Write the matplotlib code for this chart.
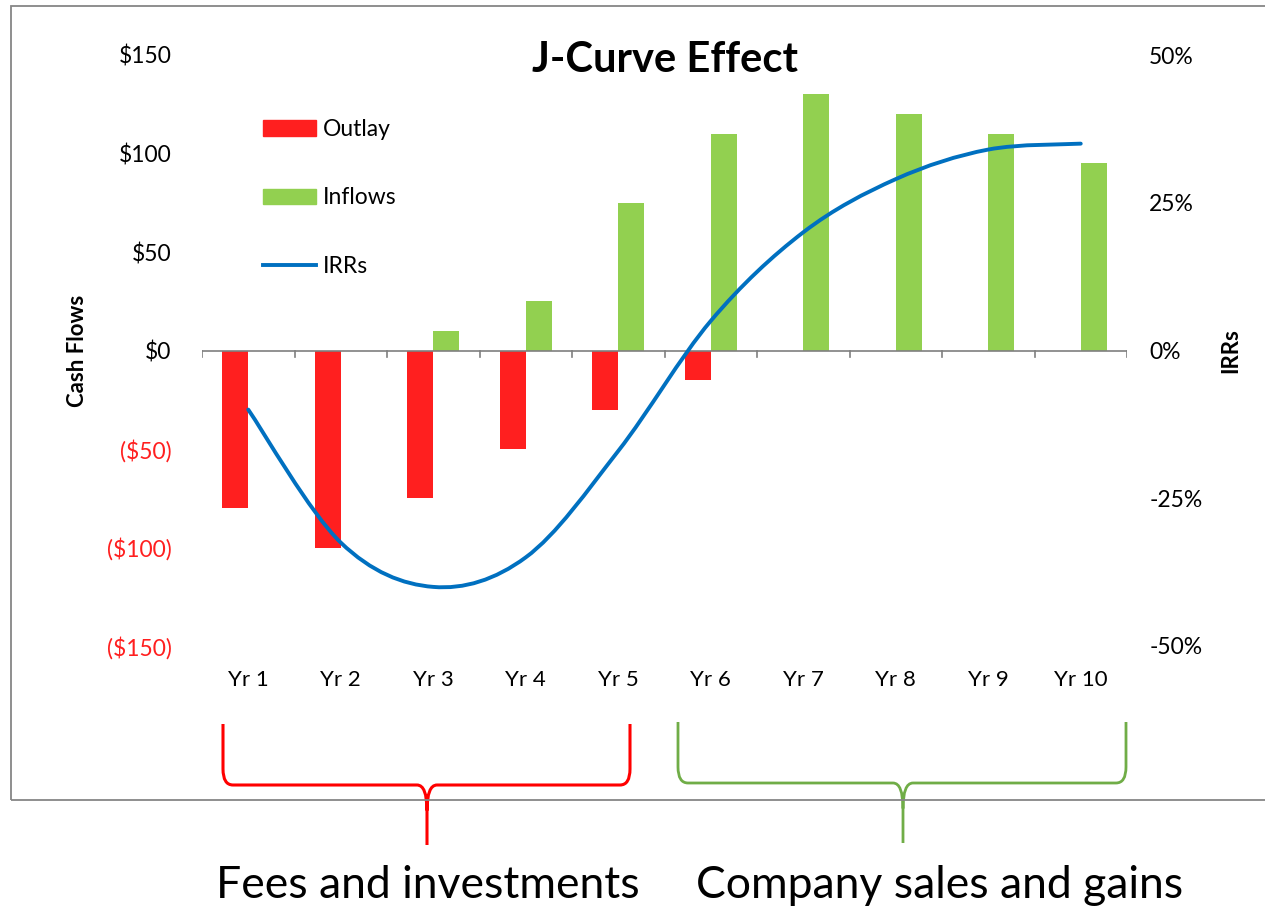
import matplotlib
matplotlib.use("Agg")
import matplotlib.pyplot as plt
from matplotlib.path import Path
from matplotlib.patches import PathPatch, Patch, Rectangle
from matplotlib.lines import Line2D
import matplotlib.transforms as mtransforms
import numpy as np

plt.rcParams['font.family'] = ['Lato', 'DejaVu Sans']

# data
years = ["Yr 1", "Yr 2", "Yr 3", "Yr 4", "Yr 5", "Yr 6", "Yr 7", "Yr 8", "Yr 9", "Yr 10"]
outlay = [-80, -100, -75, -50, -30, -15, 0, 0, 0, 0]
inflows = [0, 0, 10, 25, 75, 110, 130, 120, 110, 95]
irrs = [-0.10, -0.325, -0.40, -0.35, -0.17, 0.05, 0.20, 0.29, 0.34, 0.35]

cash_ticks = [-150, -100, -50, 0, 50, 100, 150]
cash_labels = ["($150)", "($100)", "($50)", "$0", "$50", "$100", "$150"]
irr_ticks = [-0.5, -0.25, 0, 0.25, 0.5]
irr_labels = ["-50%", "-25%", "0%", "25%", "50%"]

RED = "#FF1F1F"
GREEN = "#92D050"
BLUE = "#0070C0"

W, H = 1265, 911
fig = plt.figure(figsize=(W / 100, H / 100), dpi=100)
ax = fig.add_axes([202 / W, (H - 646) / H, 925 / W, 591 / H])
ax2 = ax.twinx()

x = np.arange(len(years))
bw = 0.28
ax.bar(x, outlay, width=-bw, align='edge', color=RED, zorder=2)
ax.bar(x, inflows, width=bw, align='edge', color=GREEN, zorder=2)

ax.set_xlim(-0.5, len(years) - 0.5)
ax.set_ylim(-150, 150)
ax2.set_ylim(-0.5, 0.5)

# zero line with category boundary ticks
ax.axhline(0, color="#7f7f7f", lw=1.2, zorder=3)
for b in np.arange(-0.5, len(years), 1.0):
    ax.plot([b, b], [0, -3.5], color="#7f7f7f", lw=1.2, zorder=3)

for s in ax.spines.values():
    s.set_visible(False)
for s in ax2.spines.values():
    s.set_visible(False)

ax.set_xticks([])
ax.set_yticks(cash_ticks)
ax.set_yticklabels(cash_labels, fontsize=16.5)
ax.tick_params(axis='y', length=0, pad=22)
for lbl, v in zip(ax.get_yticklabels(), cash_ticks):
    lbl.set_color(RED if v < 0 else "black")

ax2.set_yticks(irr_ticks)
ax2.set_yticklabels(irr_labels, fontsize=16.5)
ax2.tick_params(axis='y', length=0, pad=16)

# category labels below the plot area
trans = mtransforms.blended_transform_factory(ax.transData, ax.transAxes)
for xi, name in zip(x, years):
    ax.text(xi, -0.0575, name, transform=trans, ha='center', va='center', fontsize=16)

ax.set_ylabel("Cash Flows", fontsize=16, fontweight='bold')
ax.yaxis.set_label_coords((88 - 202) / 925, 0.5)
ax2.set_ylabel("IRRs", fontsize=16, fontweight='bold')
ax2.yaxis.set_label_coords((1220 - 202) / 925, 0.5)

ax.text(0.5, 0.9915, "J-Curve Effect", transform=ax.transAxes, ha='center', va='center',
        fontsize=30, fontweight='bold')

# smoothed IRR line (Catmull-Rom style bezier through the points)
verts = [(x[0], irrs[0])]
codes = [Path.MOVETO]
n = len(x)
for i in range(n - 1):
    p0 = i - 1 if i > 0 else i
    p3 = i + 2 if i + 2 < n else i + 1
    c1 = (x[i] + (x[i + 1] - x[p0]) / 6, irrs[i] + (irrs[i + 1] - irrs[p0]) / 6)
    c2 = (x[i + 1] - (x[p3] - x[i]) / 6, irrs[i + 1] - (irrs[p3] - irrs[i]) / 6)
    verts += [c1, c2, (x[i + 1], irrs[i + 1])]
    codes += [Path.CURVE4] * 3
ax2.add_patch(PathPatch(Path(verts, codes), fill=False, edgecolor=BLUE, lw=2.8,
                        capstyle='round', zorder=4))

handles = [Patch(color=RED), Patch(color=GREEN), Line2D([], [], color=BLUE, lw=2.8)]
ax2.legend(handles, ["Outlay", "Inflows", "IRRs"], loc='upper left',
           bbox_to_anchor=(263 / W, 1 - 119 / H), bbox_transform=fig.transFigure,
           frameon=False, fontsize=16.5, handlelength=2.3, handleheight=0.65,
           handletextpad=0.3, labelspacing=2.07, borderpad=0, borderaxespad=0)


def brace(x0, x1, xm, y_top, y_mid, y_tip, color, lw):
    rx, ry = 10 / 925, 16 / 591
    v = [(x0, y_top), (x0, y_mid + ry), (x0, y_mid), (x0 + rx, y_mid),
         (xm - rx, y_mid), (xm, y_mid), (xm, y_mid - ry * 1.6), (xm, y_tip),
         (xm, y_mid - ry * 1.6), (xm, y_mid), (xm + rx, y_mid),
         (x1 - rx, y_mid), (x1, y_mid), (x1, y_mid + ry), (x1, y_top)]
    c = [Path.MOVETO, Path.LINETO, Path.CURVE3, Path.CURVE3,
         Path.LINETO, Path.CURVE3, Path.CURVE3, Path.LINETO,
         Path.MOVETO, Path.CURVE3, Path.CURVE3,
         Path.LINETO, Path.CURVE3, Path.CURVE3, Path.LINETO]
    ax.add_patch(PathPatch(Path(v, c), fill=False, edgecolor=color, lw=lw,
                           transform=ax.transAxes, clip_on=False))


def ay(py):
    return (646 - py) / 591


def axx(px):
    return (px - 202) / 925


brace(axx(223), axx(630), axx(427), ay(724), ay(785), ay(845), "#FF0000", 2.2)
brace(axx(678), axx(1126), axx(903), ay(722), ay(783), ay(843), "#70AD47", 2.0)

fig.text(428 / W, 1 - 885 / H, "Fees and investments", ha='center', va='center', fontsize=32)
fig.text(940 / W, 1 - 885 / H, "Company sales and gains", ha='center', va='center', fontsize=32)

# outer chart border
fig.patches.append(Rectangle((11 / W, 1 - 800 / H), 1.0, 794 / H, transform=fig.transFigure,
                             fill=False, edgecolor="#868686", lw=1.3, zorder=0))

fig.savefig("out.png", dpi=100)
